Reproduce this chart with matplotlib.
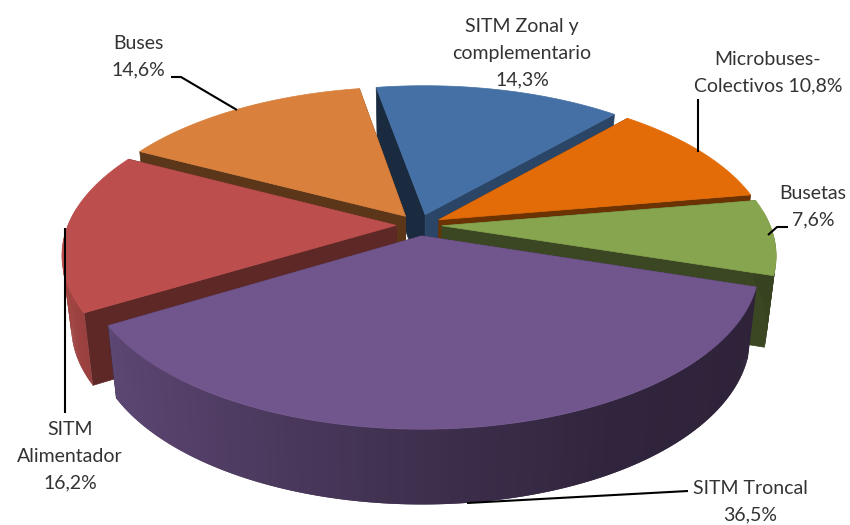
import numpy as np
import matplotlib
matplotlib.use("Agg")
import matplotlib.pyplot as plt
from matplotlib.collections import PolyCollection
from matplotlib.colors import to_rgb

# Slices, clockwise from the first edge
names = ["SITM Zonal", "Microbuses", "Busetas", "SITM Troncal", "SITM Alimentador", "Buses"]
values = [14.3, 10.8, 7.6, 36.5, 16.2, 14.6]
colors = ["#4570A5", "#E36C09", "#87A44F", "#71568D", "#BC4F4D", "#D9803C"]
start_shade = [0.38, 0.45, 0.45, 0.45, 0.50, 0.42]
end_shade = [0.62, 0.47, 0.43, 0.45, 0.50, 0.42]

labels = ["SITM Zonal y\ncomplementario\n14,3%", "Microbuses-\nColectivos 10,8%", "Busetas\n7,6%",
          "SITM Troncal\n36,5%", "SITM\nAlimentador\n16,2%", "Buses\n14,6%"]
label_x = [522, 768, 813, 750, 70, 138]
label_y = [53, 73, 207, 502, 456, 57]

leaders = [[(698, 99), (698, 152)],
           [(768, 235), (777, 227), (788, 227)],
           [(467, 503), (688, 491)],
           [(65.5, 228), (65.5, 413)],
           [(171, 77), (181, 77), (237, 110)]]

# Pie geometry in pixels
CX, CY = 419, 225
RX, RY = 328, 155
PERSP = 0.176
EXPLODE = 0.07
DEPTH = 70
FIRST_ANGLE = -10


# Method: Used to project points of the unit disc onto the picture
def project(u, v, drop=False):
    w = 1 / (1 - PERSP * v)
    x = CX + RX * u * w
    y = CY + RY * v * w
    if drop:
        x = CX + (x - CX) * 0.974
        y = y + DEPTH * (1 + 0.07 * v)
    return x, y


# Method: Used to draw one exploded slice, side walls first and top face last
def draw_slice(ax, a0, a1, color, shade0, shade1):
    mid = np.radians((a0 + a1) / 2)
    ou, ov = EXPLODE * np.sin(mid), -EXPLODE * np.cos(mid)
    t = np.radians(np.linspace(a0, a1, int(abs(a1 - a0) * 2) + 3))
    u, v = np.sin(t) + ou, -np.cos(t) + ov
    base = np.array(to_rgb(color))

    xt, yt = project(u, v)
    xb, yb = project(u, v, drop=True)

    # the two radial walls
    ax0, ay0 = project(np.array(ou), np.array(ov))
    bx0, by0 = project(np.array(ou), np.array(ov), drop=True)
    ax.fill([ax0, xt[0], xb[0], bx0], [ay0, yt[0], yb[0], by0], color=base * shade0, lw=0.5)
    ax.fill([ax0, xt[-1], xb[-1], bx0], [ay0, yt[-1], yb[-1], by0], color=base * shade1, lw=0.5)

    # outer rim, only the part facing the viewer, darker towards the right
    # the quads overlap so no seams show
    quads, fills = [], []
    for i in range(len(t) - 1):
        if np.cos(t[i]) > 0.1:
            continue
        j = min(i + 2, len(t) - 1)
        quads.append([(xt[i], yt[i]), (xt[j], yt[j]), (xb[j], yb[j]), (xb[i], yb[i])])
        fills.append(base * np.interp(np.sin(t[i]), [-1, -0.1, 0.5, 1], [0.86, 0.58, 0.43, 0.40]))
    ax.add_collection(PolyCollection(quads, facecolors=fills, edgecolors="none", linewidths=0))

    # top face
    ax.fill(np.r_[ax0, xt], np.r_[ay0, yt], color=color, lw=0.5)


fig = plt.figure(figsize=(8.5, 5.25), dpi=100)
ax = fig.add_axes([0, 0, 1, 1])
ax.set_xlim(0, 850)
ax.set_ylim(525, 0)
ax.axis("off")

edges = FIRST_ANGLE + np.r_[0, np.cumsum(values)] * 360 / sum(values)
mids = (edges[:-1] + edges[1:]) / 2

# back slices first so the front ones cover their walls
for i in np.argsort(-np.cos(np.radians(mids))):
    draw_slice(ax, edges[i], edges[i + 1], colors[i], start_shade[i], end_shade[i])

for line in leaders:
    xs, ys = zip(*line)
    ax.plot(xs, ys, color="black", lw=1.5, solid_capstyle="butt")

for text, x, y in zip(labels, label_x, label_y):
    ax.text(x, y, text, ha="center", va="center", fontsize=14, family="Lato", color="#333333",
            linespacing=1.67)

fig.savefig("out.png", dpi=100)
